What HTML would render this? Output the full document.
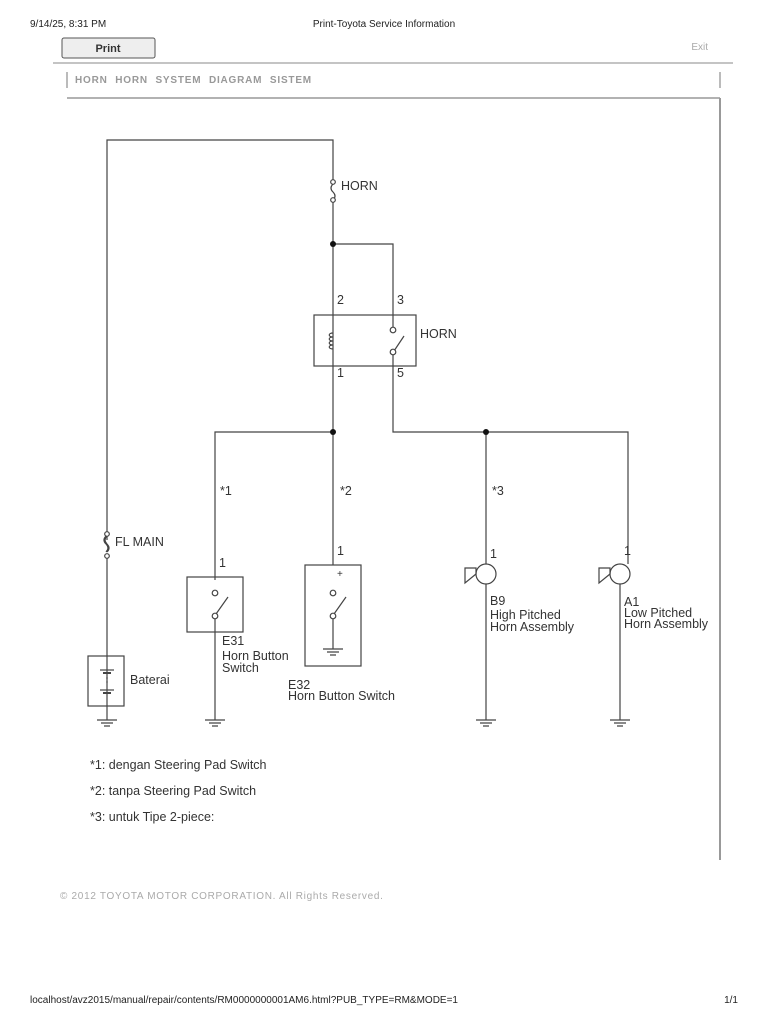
<!DOCTYPE html>
<html><head><meta charset="utf-8"><style>
body{margin:0;background:#fff;}
svg{display:block}
</style></head><body>
<svg width="768" height="1024" viewBox="0 0 768 1024" xmlns="http://www.w3.org/2000/svg" font-family="Liberation Sans, Arial, sans-serif">
<text x="30" y="27" font-size="10" fill="#222">9/14/25, 8:31 PM</text>
<text x="384" y="27" font-size="10" fill="#222" text-anchor="middle">Print-Toyota Service Information</text>
<rect x="62" y="38" width="93" height="20" rx="2" fill="#eee" stroke="#555"/>
<text x="108" y="52" font-size="11" font-weight="bold" fill="#333" text-anchor="middle">Print</text>
<text x="708" y="50" font-size="10" fill="#aaa" text-anchor="end">Exit</text>
<line x1="53" y1="63" x2="733" y2="63" stroke="#888"/>
<line x1="67" y1="72" x2="67" y2="88" stroke="#777"/>
<line x1="720" y1="72" x2="720" y2="88" stroke="#777"/>
<text x="75" y="83" font-size="10" font-weight="bold" fill="#999" letter-spacing="0.8" word-spacing="4">HORN  HORN SYSTEM  DIAGRAM SISTEM</text>
<line x1="67" y1="98" x2="720" y2="98" stroke="#666"/>
<line x1="720" y1="98" x2="720" y2="860" stroke="#999" stroke-width="2"/>
<g stroke="#444" stroke-width="1.2" fill="none">
<polyline points="107,540 107,140 333,140 333,180"/>
<circle cx="333" cy="182" r="2.3" fill="#fff"/>
<path d="M333,184 q-4,4 0,8 q4,4 0,8"/>
<circle cx="333" cy="200" r="2.3" fill="#fff"/>
<line x1="333" y1="202" x2="333" y2="432"/>
<polyline points="333,244 393,244 393,327"/>
<rect x="314" y="315" width="102" height="51"/>
<path d="M333,333 c-5,0 -5,4 0,4 c-5,0 -5,4 0,4 c-5,0 -5,4 0,4 c-5,0 -5,4 0,4"/>
<circle cx="393" cy="330" r="2.8" fill="#fff"/>
<line x1="394" y1="351" x2="404" y2="336"/>
<circle cx="393" cy="352" r="2.8" fill="#fff"/>
<polyline points="393,355 393,432 628,432 628,564"/>
<polyline points="215,580 215,432 333,432 333,565"/>
<line x1="486" y1="432" x2="486" y2="564"/>
<circle cx="107" cy="534" r="2.3" fill="#fff"/>
<path d="M107,536 q-4,4 0,8 q4,4 0,8" />
<path d="M106,536 q-4,4 0,8 q4,4 0,8"/>
<circle cx="107" cy="556" r="2.3" fill="#fff"/>
<line x1="107" y1="558" x2="107" y2="720"/>
<rect x="88" y="656" width="36" height="50"/>
<line x1="100" y1="670" x2="114" y2="670"/>
<line x1="103" y1="673" x2="111" y2="673" stroke-width="2"/>
<line x1="107" y1="677" x2="107" y2="685" stroke-dasharray="2,2"/>
<line x1="100" y1="690" x2="114" y2="690"/>
<line x1="103" y1="693" x2="111" y2="693" stroke-width="2"/>
<rect x="187" y="577" width="56" height="55"/>
<circle cx="215" cy="593" r="2.8" fill="#fff"/>
<line x1="216" y1="614" x2="228" y2="597"/>
<circle cx="215" cy="616" r="2.8" fill="#fff"/>
<line x1="215" y1="619" x2="215" y2="720"/>
<rect x="305" y="565" width="56" height="101"/>
<circle cx="333" cy="593" r="2.8" fill="#fff"/>
<line x1="334" y1="614" x2="346" y2="597"/>
<circle cx="333" cy="616" r="2.8" fill="#fff"/>
<line x1="333" y1="619" x2="333" y2="649"/>
<circle cx="486" cy="574" r="10" fill="#fff"/>
<path d="M476,574 L476,568 L465,568 L465,583 L476,574"/>
<line x1="486" y1="584" x2="486" y2="720"/>
<circle cx="620" cy="574" r="10" fill="#fff"/>
<path d="M610,574 L610,568 L599,568 L599,583 L610,574"/>
<line x1="620" y1="584" x2="620" y2="720"/>
</g>
<g fill="#111"><circle cx="333" cy="244" r="3"/><circle cx="333" cy="432" r="3"/><circle cx="486" cy="432" r="3"/></g>
<g stroke="#444" stroke-width="1.2">
<path d="M97,720h20M101,723h12M104,726h6"/>
<path d="M205,720h20M209,723h12M212,726h6"/>
<path d="M323,649h20M327,652h12M330,655h6"/>
<path d="M476,720h20M480,723h12M483,726h6"/>
<path d="M610,720h20M614,723h12M617,726h6"/>
</g>
<g font-size="12.5" fill="#333">
<text x="341" y="190">HORN</text>
<text x="337" y="304">2</text><text x="397" y="304">3</text>
<text x="420" y="338">HORN</text>
<text x="337" y="377">1</text><text x="397" y="377">5</text>
<text x="220" y="495">*1</text><text x="340" y="495">*2</text><text x="492" y="495">*3</text>
<text x="115" y="546">FL MAIN</text>
<text x="219" y="567">1</text><text x="337" y="555">1</text>
<text x="337" y="577" font-size="10">+</text>
<text x="490" y="558">1</text><text x="624" y="555">1</text>
<text x="130" y="684">Baterai</text>
<text x="222" y="645">E31</text><text x="222" y="660">Horn Button</text><text x="222" y="672">Switch</text>
<text x="288" y="689">E32</text><text x="288" y="700">Horn Button Switch</text>
<text x="490" y="605">B9</text><text x="490" y="619">High Pitched</text><text x="490" y="631">Horn Assembly</text>
<text x="624" y="606">A1</text><text x="624" y="617">Low Pitched</text><text x="624" y="628">Horn Assembly</text>
<text x="90" y="769">*1: dengan Steering Pad Switch</text>
<text x="90" y="795">*2: tanpa Steering Pad Switch</text>
<text x="90" y="821">*3: untuk Tipe 2-piece:</text>
</g>
<text x="60" y="899" font-size="10" fill="#aaa" letter-spacing="0.7">© 2012 TOYOTA MOTOR CORPORATION. All Rights Reserved.</text>
<text x="30" y="1003" font-size="10" fill="#222">localhost/avz2015/manual/repair/contents/RM0000000001AM6.html?PUB_TYPE=RM&amp;MODE=1</text>
<text x="738" y="1003" font-size="10" fill="#222" text-anchor="end">1/1</text>
</svg>
</body></html>
